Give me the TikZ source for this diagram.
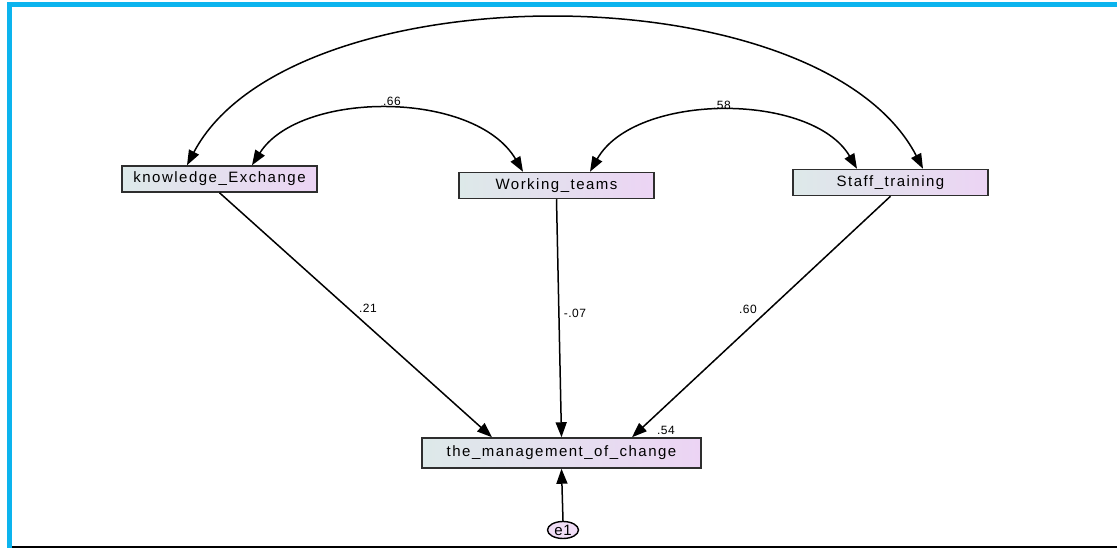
\documentclass[tikz,border=0pt]{standalone}
\usepackage{fontspec}
\setmainfont{Liberation Sans}
\usetikzlibrary{arrows.meta,shapes.geometric}
\definecolor{framecyan}{HTML}{0CB4EE}
\definecolor{baseline}{HTML}{7F9AA2}
\definecolor{boxleft}{HTML}{DDE9E9}
\definecolor{boxright}{HTML}{ECD4F4}
\definecolor{boxedge}{HTML}{2E2E2E}
\tikzset{
  var/.style={draw=boxedge, line width=1.5pt, left color=boxleft, right color=boxright,
    inner sep=0pt, minimum width=195pt, minimum height=26pt,
    font=\fontsize{15}{17}\selectfont\addfontfeature{LetterSpace=10}},
  errvar/.style={ellipse, draw=black, line width=1.4pt, fill=boxright!80,
    inner sep=0pt, minimum width=31pt, minimum height=17pt,
    font=\fontsize{15}{17}\selectfont\addfontfeature{LetterSpace=5}},
  path/.style={line width=1.5pt, -{Triangle[length=15pt,width=11pt]}},
  cov/.style={line width=1.5pt, {Triangle[length=15pt,width=11pt]}-{Triangle[length=15pt,width=11pt]}},
  est/.style={font=\fontsize{12}{14}\selectfont\addfontfeature{LetterSpace=4}, inner sep=0pt}
}
\begin{document}
\begin{tikzpicture}[x=1pt,y=-1pt]
  \useasboundingbox (0,0) rectangle (1117,548);
  % page frame
  \fill[white] (0,0) rectangle (1117,548);
  \fill[framecyan] (7,2) rectangle (1117,7);
  \fill[framecyan] (7,2) rectangle (12,548);
  \fill[baseline] (12,546) rectangle (1117,548);

  % observed variables
  \node[var] (ke) at (219.5,179) {knowledge\_Exchange};
  \node[var] (wt) at (556.5,185.5) {Working\_teams};
  \node[var] (st) at (890.5,182.5) {Staff\_training};
  \node[var, minimum width=279pt, minimum height=30pt] (mc) at (561.5,453) {the\_management\_of\_change};
  \node[errvar] (e1) at (563,530) {e1};

  % covariances
  \draw[cov] ([xshift=-32.5pt]ke.north) .. controls (290,-30) and (820,-30) .. ([xshift=32.5pt]st.north);
  \draw[cov] ([xshift=32.5pt]ke.north) .. controls (300,90) and (475,90) .. ([xshift=-33.5pt]wt.north);
  \draw[cov] ([xshift=33.5pt]wt.north) .. controls (635,92) and (812,92) .. ([xshift=-33.5pt]st.north);
  \node[est] (c1) at (392,101) {.66};
  \node[est] (c2) at (722,105) {.58};

  % regression paths
  \draw[path] (ke.south) -- ([xshift=-69.5pt]mc.north);
  \draw[path] (wt.south) -- (mc.north);
  \draw[path] (st.south) -- ([xshift=70.5pt]mc.north);
  \draw[path] (e1.north) -- (mc.south);
  \node[est] (p1) at (368,308) {.21};
  \node[est] (p2) at (575,313) {-.07};
  \node[est] (p3) at (748,309) {.60};
  \node[est] (r2) at (666,430) {.54};
\end{tikzpicture}
\end{document}
